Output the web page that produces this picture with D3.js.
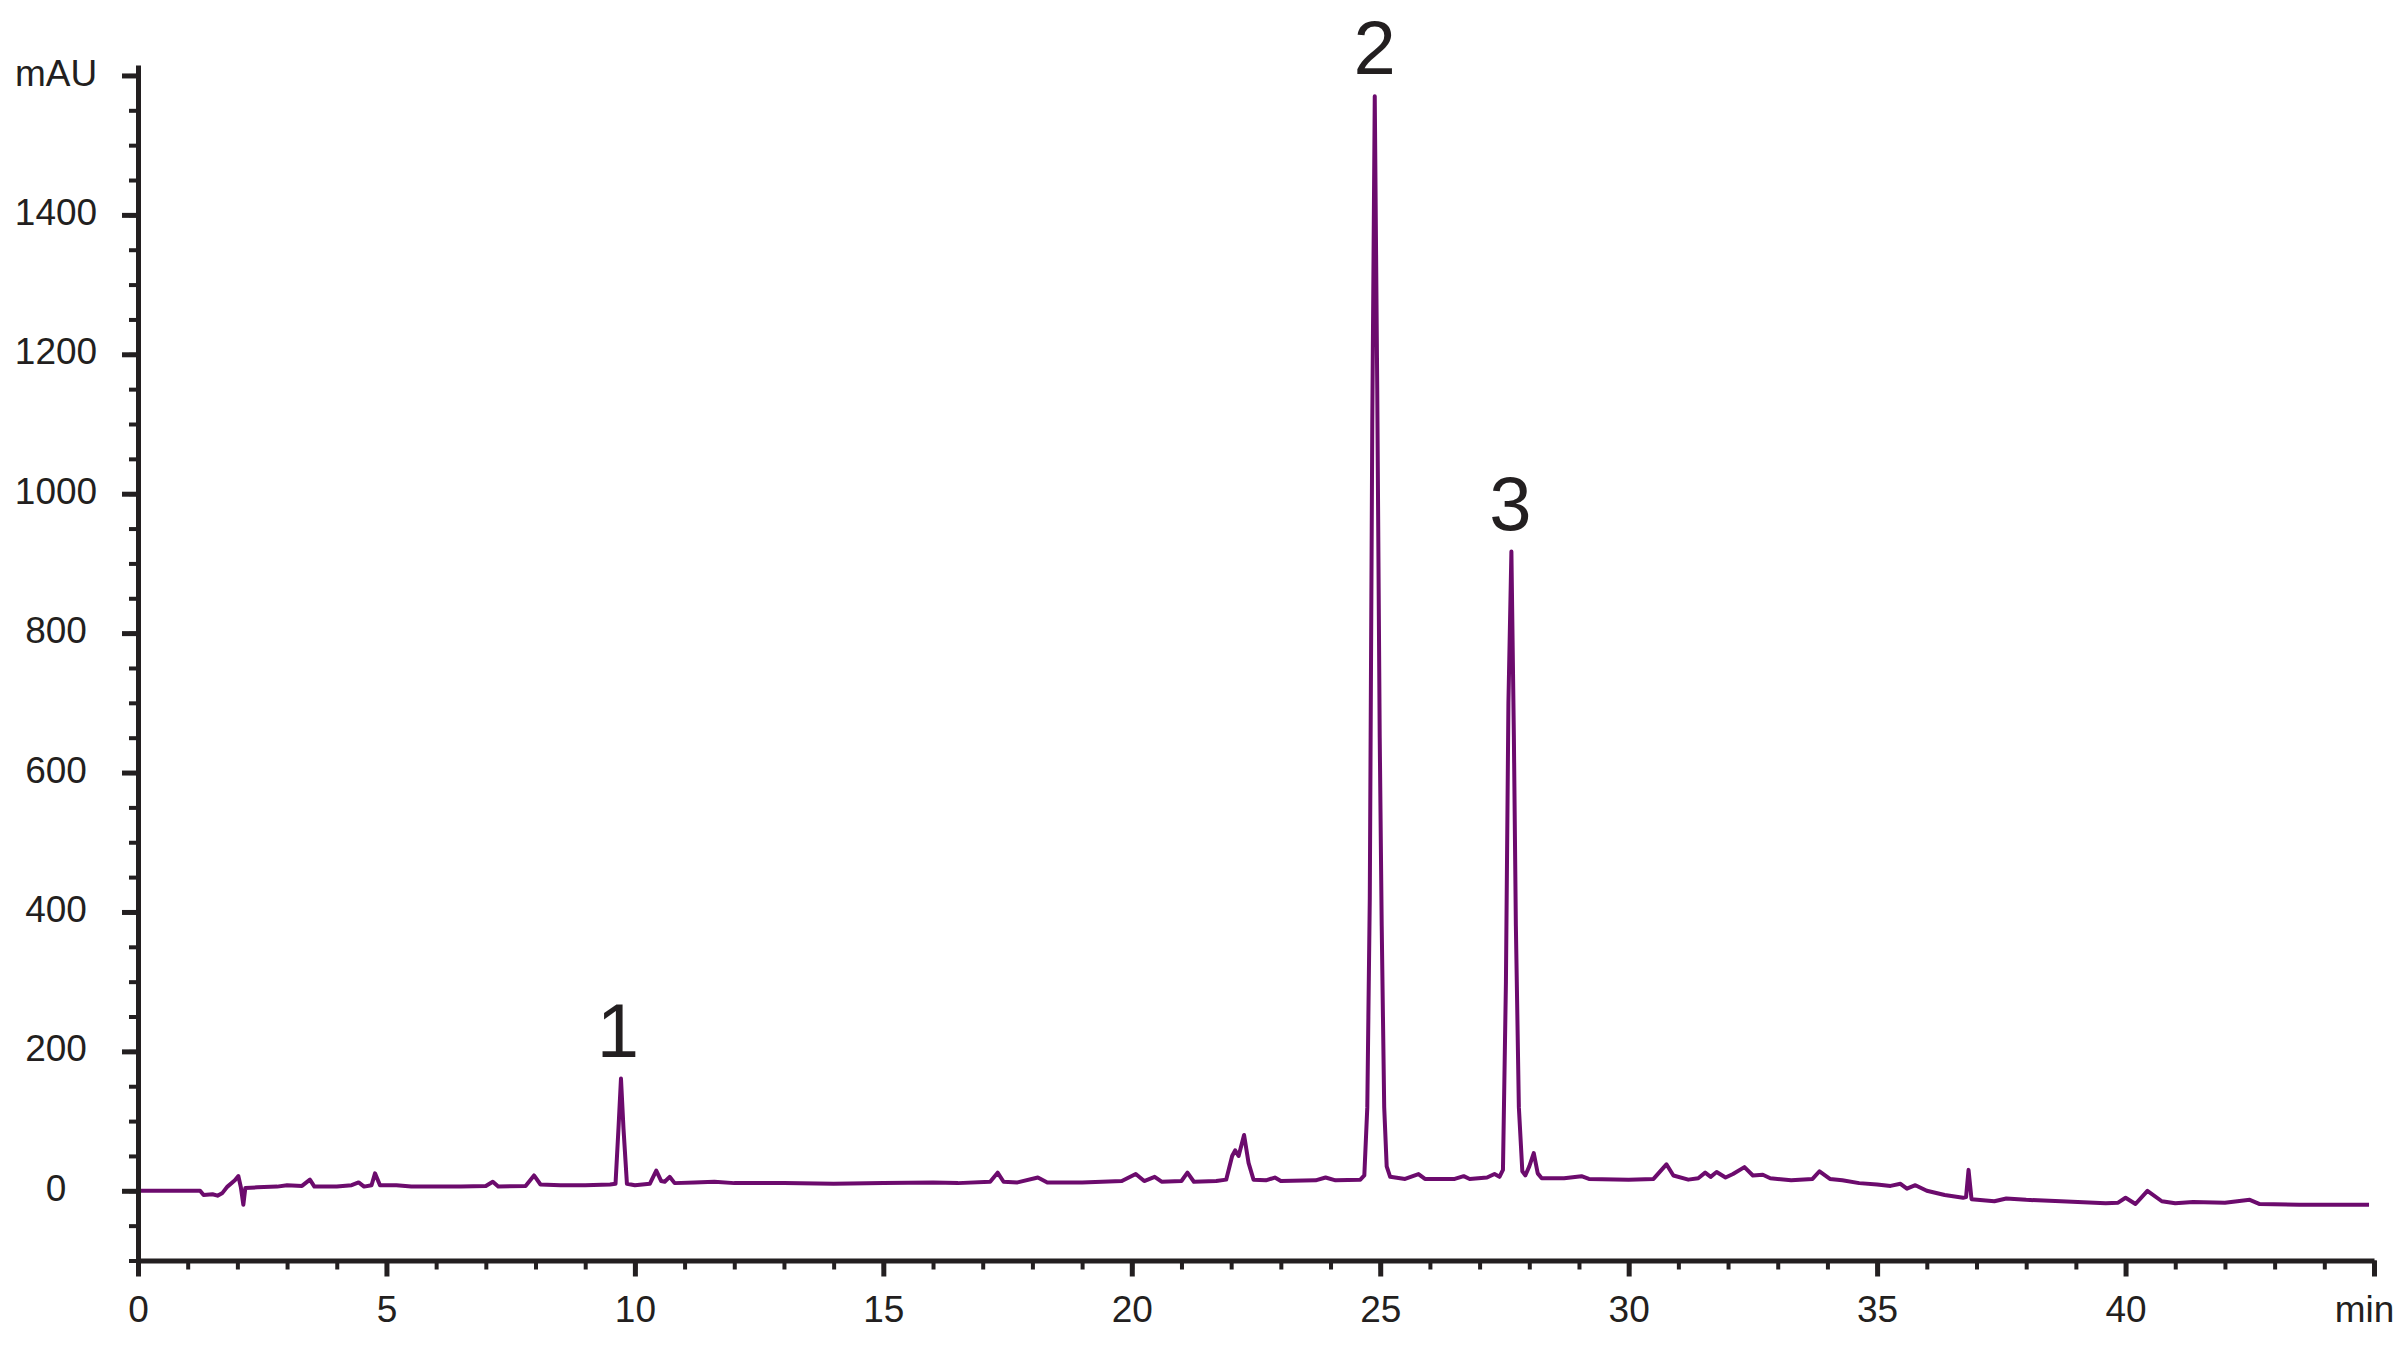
<!DOCTYPE html>
<meta charset="utf-8">
<html>
<head>
<script src="https://d3js.org/d3.v7.min.js"></script>
<style>
  body { margin: 0; background: #fff; }
  text { font-family: "Liberation Sans", Arial, sans-serif; fill: #231f20; }
</style>
</head>
<body>
<div id="my_dataviz"></div>
<script>

// retention time (min) and absorbance (mAU)
var times = [0.0, 1.25, 1.32, 1.5, 1.6, 1.7, 1.8, 1.95, 2.02, 2.07, 2.12, 2.16, 2.4, 2.8, 3.0, 3.3, 3.46, 3.55,
  4.0, 4.3, 4.44, 4.55, 4.7, 4.77, 4.87, 5.2, 5.5, 6.5, 7.0, 7.14, 7.25, 7.8, 7.97, 8.1, 8.5, 9.0, 9.5,
  9.61, 9.67, 9.72, 9.77, 9.84, 10.0, 10.3, 10.43, 10.53, 10.6, 10.7, 10.8, 11.2, 11.6, 12, 13, 14, 15, 16,
  16.5, 17.15, 17.3, 17.42, 17.7, 18.11, 18.3, 19.0, 19.8, 20.08, 20.25, 20.46, 20.6, 21.0, 21.12, 21.25,
  21.7, 21.9, 22.02, 22.08, 22.15, 22.26, 22.35, 22.45, 22.7, 22.88, 23.0, 23.7, 23.9, 24.1, 24.6, 24.68,
  24.74, 24.79, 24.84, 24.89, 24.94, 24.99, 25.03, 25.08, 25.13, 25.2, 25.5, 25.77, 25.9, 26.5, 26.68, 26.8,
  27.15, 27.3, 27.4, 27.47, 27.53, 27.58, 27.64, 27.69, 27.73, 27.79, 27.86, 27.92, 28.0, 28.09, 28.17,
  28.25, 28.7, 29.05, 29.2, 30.0, 30.5, 30.76, 30.9, 31.2, 31.4, 31.54, 31.65, 31.77, 31.95, 32.1, 32.33,
  32.5, 32.7, 32.85, 33.27, 33.7, 33.84, 34.05, 34.3, 34.64, 35.0, 35.27, 35.47, 35.6, 35.77, 36.0, 36.36,
  36.73, 36.79, 36.84, 36.9, 37.36, 37.6, 38.0, 38.7, 39.6, 39.85, 40.0, 40.2, 40.44, 40.73, 41.0, 41.36,
  42.0, 42.5, 42.7, 43.5, 44.9]
var signal = [0, 0, -6, -5, -7, -3, 6, 15, 21, 5, -20, 4, 5, 6, 8, 7, 16, 6,
  6, 8, 12, 6, 8, 25, 8, 8, 6, 6, 7, 13, 6, 7, 22, 9, 8, 8, 9,
  10, 90, 161, 90, 10, 8, 10, 29, 14, 13, 20, 11, 12, 13, 11, 11, 10, 11, 12,
  11, 13, 26, 13, 12, 19, 12, 12, 14, 24, 14, 20, 13, 14, 26, 13,
  14, 16, 50, 58, 50, 80, 40, 16, 15, 19, 14, 15, 19, 15, 16, 22,
  120, 420, 1100, 1570, 1150, 650, 380, 120, 35, 20, 17, 24, 17, 17, 21, 17,
  19, 24, 20, 30, 300, 700, 917, 650, 380, 120, 28, 22, 35, 54, 25,
  18, 18, 21, 17, 16, 17, 38, 22, 16, 18, 26, 20, 27, 19, 24, 34,
  22, 23, 18, 15, 17, 28, 17, 15, 11, 9, 7, 10, 3, 8, 0, -6,
  -10, -9, 30, -12, -15, -11, -13, -15, -18, -17, -10, -19, 0, -15, -18, -16,
  -17, -13, -19, -20, -20]

// numbered peaks
var peakLabels = ["1", "2", "3"]
var peakTimes = [9.66, 24.89, 27.62]
var peakHeights = [161, 1570, 917]

// axis ticks
var xMajor = [0, 5, 10, 15, 20, 25, 30, 35, 40, 45]
var xMinor = d3.range(0, 46, 1)
var yMajor = [0, 200, 400, 600, 800, 1000, 1200, 1400, 1600]
var yMinor = d3.range(-100, 1601, 50)

var W = 2408, H = 1350

var svg = d3.select("#my_dataviz")
  .append("svg")
  .attr("width", W)
  .attr("height", H)

var x = d3.scaleLinear()
  .domain([0, 45])
  .range([138, 2374])

var y = d3.scaleLinear()
  .domain([-100, 1615])
  .range([1260.5, 65])

var data = times.map(function(t, i) { return {t: t, v: signal[i]} })

// the trace
var line = d3.line()
  .x(function(d) { return x(d.t) })
  .y(function(d) { return y(d.v) })

svg.append("path")
  .datum(data)
  .attr("fill", "none")
  .attr("stroke", "#6c0b6d")
  .attr("stroke-width", 4)
  .attr("stroke-linejoin", "round")
  .attr("d", line)

// minor ticks
svg.append("g")
  .attr("transform", "translate(0,1260.5)")
  .call(d3.axisBottom(x).tickValues(xMinor).tickSize(9).tickSizeOuter(0).tickFormat(""))
  .call(function(g) { g.select(".domain").remove() })
  .selectAll("line").attr("stroke", "#231f20").attr("stroke-width", 4)

svg.append("g")
  .attr("transform", "translate(138,0)")
  .call(d3.axisLeft(y).tickValues(yMinor).tickSize(9).tickSizeOuter(0).tickFormat(""))
  .call(function(g) { g.select(".domain").remove() })
  .selectAll("line").attr("stroke", "#231f20").attr("stroke-width", 4)

// x axis with major ticks
var xAxis = svg.append("g")
  .attr("transform", "translate(0,1260.5)")
  .call(d3.axisBottom(x).tickValues(xMajor).tickSize(16).tickSizeOuter(0)
    .tickFormat(function(d) { return d == 45 ? "min" : d }))

xAxis.select(".domain").attr("stroke", "#231f20").attr("stroke-width", 5)
xAxis.selectAll("line").attr("stroke", "#231f20").attr("stroke-width", 5)
xAxis.selectAll("text")
  .attr("y", 35)
  .attr("dy", "0.71em")
  .attr("x", function(d) { return d == 45 ? -10 : 0 })
  .style("font-size", "37px")
  .style("fill", "#231f20")

// y axis with major ticks
var yAxis = svg.append("g")
  .attr("transform", "translate(138,0)")
  .call(d3.axisLeft(y).tickValues(yMajor).tickSize(16).tickSizeOuter(0)
    .tickFormat(function(d) { return d == 1600 ? "mAU" : d }))

yAxis.select(".domain").attr("stroke", "#231f20").attr("stroke-width", 5)
yAxis.selectAll("line").attr("stroke", "#231f20").attr("stroke-width", 5)
yAxis.selectAll("text")
  .attr("x", -82)
  .attr("dy", "0.26em")
  .attr("text-anchor", "middle")
  .style("font-size", "37px")
  .style("fill", "#231f20")

// peak numbers
svg.selectAll("peaklabels")
  .data(peakLabels)
  .enter()
  .append("text")
    .attr("x", function(d, i) { return x(peakTimes[i]) })
    .attr("y", function(d, i) { return y(peakHeights[i]) - 22 })
    .attr("text-anchor", "middle")
    .style("font-size", "76px")
    .text(function(d) { return d })

</script>
</body>
</html>
